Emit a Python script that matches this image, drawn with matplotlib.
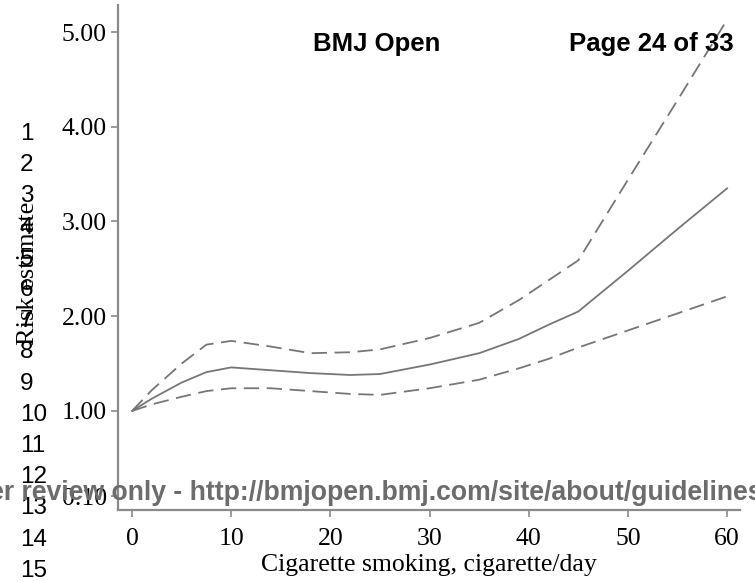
import matplotlib
matplotlib.use("Agg")
import matplotlib.pyplot as plt

# Dose-response of cigarette consumption on risk, with 95% confidence band
cigs = [0, 2, 5, 7.5, 10, 14, 18, 22, 25, 30, 35, 39, 42, 45, 50, 55, 60]
estimate = [1.00, 1.13, 1.30, 1.41, 1.46, 1.43, 1.40, 1.38, 1.39, 1.49, 1.61,
            1.76, 1.91, 2.05, 2.48, 2.92, 3.35]
upper = [1.00, 1.22, 1.50, 1.70, 1.74, 1.68, 1.61, 1.62, 1.65, 1.77, 1.93,
         2.17, 2.38, 2.59, 3.44, 4.28, 5.13]
lower = [1.00, 1.07, 1.15, 1.21, 1.24, 1.24, 1.21, 1.18, 1.17, 1.24, 1.33,
         1.45, 1.55, 1.67, 1.85, 2.03, 2.21]

y_ticks = [0.10, 1.00, 2.00, 3.00, 4.00, 5.00]
x_ticks = [0, 10, 20, 30, 40, 50, 60]
line_numbers = [str(i) for i in range(1, 16)]

W, H = 755, 581
fig = plt.figure(figsize=(W / 100, H / 100), dpi=100)
ax = fig.add_axes([118 / W, 1 - 510 / H, (740 - 118) / W, (510 - 5) / H])

line_col = "#767676"
ax.plot(cigs, estimate, color=line_col, lw=1.3, solid_joinstyle="round")
for band in (upper, lower):
    ln, = ax.plot(cigs, band, color=line_col, lw=1.3)
    ln.set_dashes((8.5, 4.2))

ax.set_xlim(-1.41, 61.3)
ax.set_ylim(-0.045, 5.285)
ax.set_xticks(x_ticks)
ax.set_xticklabels([str(v) for v in x_ticks])
ax.set_yticks(y_ticks)
ax.set_yticklabels([f"{v:.2f}" for v in y_ticks])

serif = "Liberation Serif"
for lab in ax.get_xticklabels() + ax.get_yticklabels():
    lab.set_fontfamily(serif)
    lab.set_fontsize(18.5)
    lab.set_color("black")

for side in ("top", "right"):
    ax.spines[side].set_visible(False)
for side in ("left", "bottom"):
    ax.spines[side].set_color("#8a8a8a")
    ax.spines[side].set_linewidth(1.6)
ax.tick_params(axis="both", direction="out", length=5, width=1.2,
               color="#8a8a8a")
ax.tick_params(axis="x", pad=8)
ax.tick_params(axis="y", pad=3)

ax.set_xlabel("Cigarette smoking, cigarette/day", fontfamily=serif,
              fontsize=18.5, labelpad=3)

fig.text(28 / W, 1 - 273 / H, "Risk estimate", rotation=90, ha="center",
         va="center", fontfamily=serif, fontsize=19)

# Page furniture: header, line numbers and review watermark
fig.text(377 / W, 1 - 44 / H, "BMJ Open", ha="center", va="center",
         fontfamily="Liberation Sans", fontweight="bold", fontsize=18.5)
fig.text(734 / W, 1 - 44 / H, "Page 24 of 33", ha="right", va="center",
         fontfamily="Liberation Sans", fontweight="bold", fontsize=18.5)

for i, num in enumerate(line_numbers):
    fig.text(20 / W, 1 - (134 + i * 31.2) / H, num, ha="left", va="center",
             fontfamily="Liberation Sans", fontsize=17.5)

fig.text(-92 / W, 1 - 493 / H,
         "For peer review only - http://bmjopen.bmj.com/site/about/guidelines.xhtml",
         ha="left", va="center", fontfamily="Liberation Sans",
         fontweight="bold", fontsize=19.2, color="#6c6c6c")

fig.savefig("out.png", dpi=100)
